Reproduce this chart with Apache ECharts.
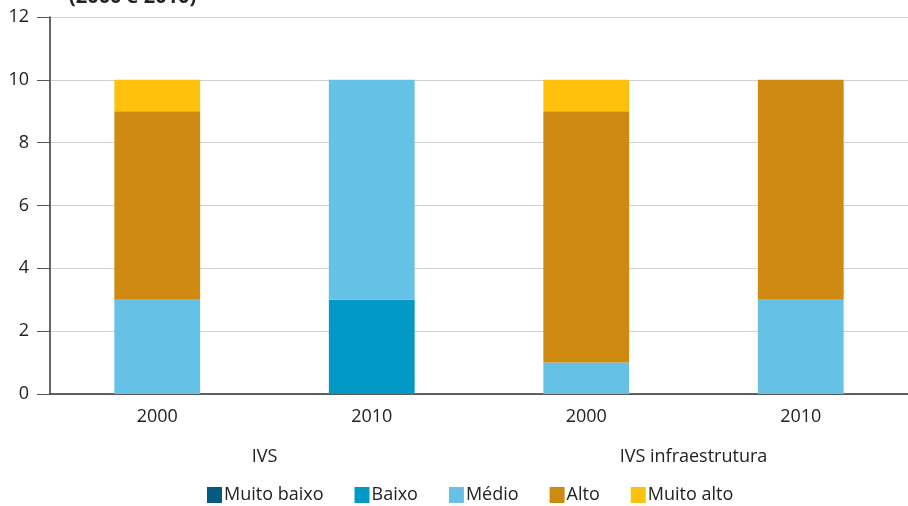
<!DOCTYPE html>
<html>
<head>
<meta charset="utf-8">
<script src="https://cdn.jsdelivr.net/npm/echarts@6/dist/echarts.min.js"></script>
<style>
  html, body { margin: 0; padding: 0; background: #fff; }
  #chart { width: 908px; height: 506px; }
</style>
</head>
<body>
<div id="chart"></div>
<script>
var years = ['2000', '2010', '2000', '2010'];
var groups = ['IVS', 'IVS infraestrutura'];
var yTicks = [0, 2, 4, 6, 8, 10, 12];

var muitoBaixo = [0, 0, 0, 0];
var baixo = [0, 3, 0, 0];
var medio = [3, 7, 1, 3];
var alto = [6, 0, 8, 7];
var muitoAlto = [1, 0, 1, 0];

var font = 'Open Sans';
var chart = echarts.init(document.getElementById('chart'));

function barSeries(name, data, color) {
    return {
        name: name,
        type: 'bar',
        stack: 'total',
        barWidth: '40%',
        xAxisIndex: 0,
        itemStyle: { color: color },
        data: data
    };
}

option = {
    textStyle: { fontFamily: font },
    title: {
        text: '(2000 e 2010)',
        left: 64,
        top: -18,
        textStyle: { fontSize: 20, fontWeight: 'bold', color: '#222', fontFamily: font }
    },
    legend: {
        bottom: -3,
        left: 202,
        icon: 'rect',
        itemWidth: 15,
        itemHeight: 16,
        itemGap: 31,
        textStyle: { fontSize: 18, color: '#222', padding: [0, 0, 0, -3] },
        data: ['Muito baixo', 'Baixo', 'Médio', 'Alto', 'Muito alto']
    },
    grid: {
        left: 50,
        right: -4,
        top: 17,
        bottom: 112
    },
    xAxis: [
        {
            type: 'category',
            data: years,
            axisLine: { lineStyle: { color: '#333', width: 1.5 } },
            axisTick: { length: 12, lineStyle: { color: '#333' } },
            axisLabel: { color: '#222', fontSize: 18, margin: 14 }
        },
        {
            type: 'category',
            data: groups,
            position: 'bottom',
            axisLine: { show: false },
            axisTick: { show: false },
            axisLabel: { color: '#222', fontSize: 18, margin: 54 }
        }
    ],
    yAxis: {
        type: 'value',
        min: 0,
        max: 12,
        interval: 2,
        axisLine: { show: true, lineStyle: { color: '#333', width: 1.5 } },
        axisTick: { show: true, length: 13, lineStyle: { color: '#555' } },
        axisLabel: {
            color: '#222',
            fontSize: 18,
            margin: 21,
            formatter: function (v) { return yTicks.indexOf(v) >= 0 ? String(v) : ''; }
        },
        splitLine: { lineStyle: { color: '#d0d0d0', width: 1 } }
    },
    series: [
        barSeries('Muito baixo', muitoBaixo, '#005b82'),
        barSeries('Baixo', baixo, '#0399c6'),
        barSeries('Médio', medio, '#65c2e6'),
        barSeries('Alto', alto, '#cf8a12'),
        barSeries('Muito alto', muitoAlto, '#fdc10e')
    ]
};
chart.setOption(option);
</script>
</body>
</html>
